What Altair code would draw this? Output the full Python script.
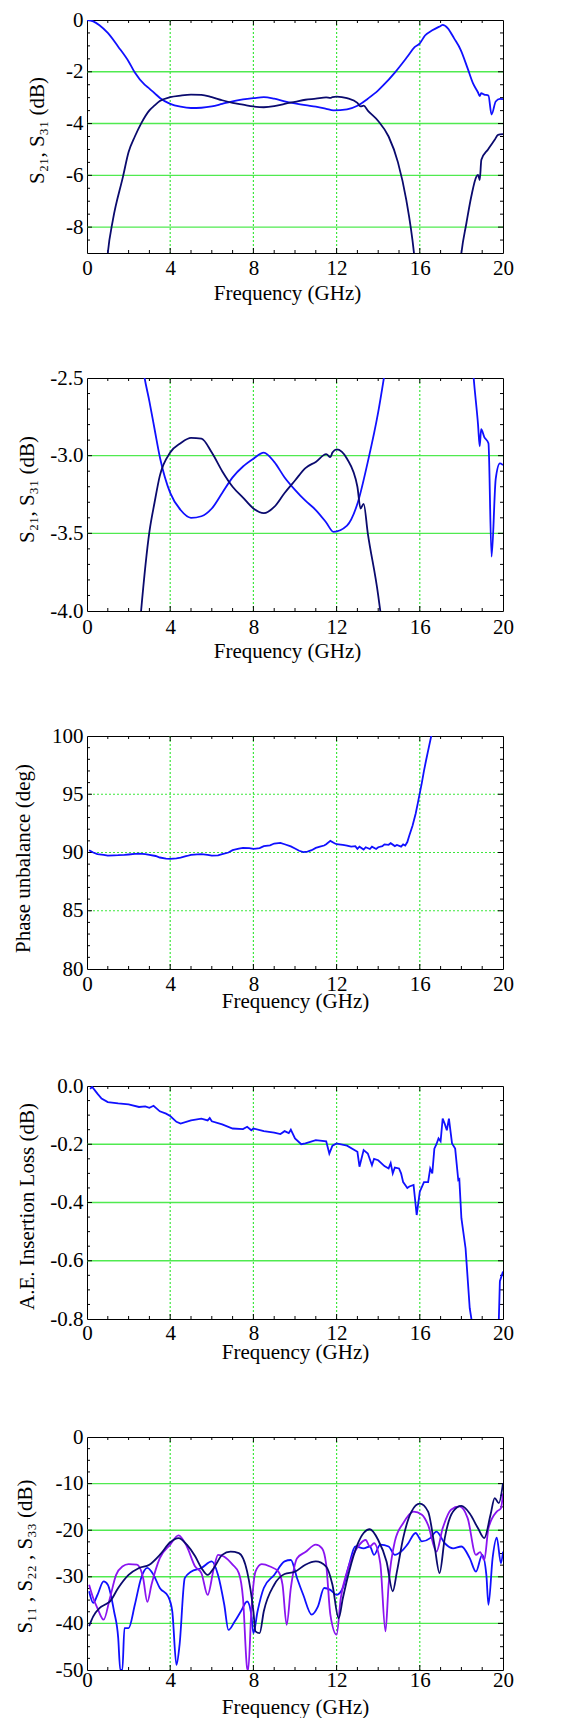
import altair as alt
import pandas as pd

FONT = "Liberation Serif"
BLUE = "#1010ff"
NAVY = "#0a0a6e"
PURPLE = "#8a14f0"
GRID = "#3de83d"

# ---------------- axis tick values ----------------
freq_ticks = [0, 4, 8, 12, 16, 20]
freq_grid = [4, 8, 12, 16]
freq_minor = [1, 2, 3, 5, 6, 7, 9, 10, 11, 13, 14, 15, 17, 18, 19]

p1_major = [0, -2, -4, -6, -8]
p1_grid = [-2, -4, -6, -8]
p1_minor = [-0.5, -1, -1.5, -2.5, -3, -3.5, -4.5, -5, -5.5, -6.5, -7, -7.5, -8.5]

p2_major = [-2.5, -3.0, -3.5, -4.0]
p2_grid = [-3.0, -3.5]
p2_minor = [-2.6, -2.7, -2.8, -2.9, -3.1, -3.2, -3.3, -3.4, -3.6, -3.7, -3.8, -3.9]

p3_major = [80, 85, 90, 95, 100]
p3_grid = [85, 90, 95]
p3_minor = [81, 82, 83, 84, 86, 87, 88, 89, 91, 92, 93, 94, 96, 97, 98, 99]

p4_major = [0.0, -0.2, -0.4, -0.6, -0.8]
p4_grid = [-0.2, -0.4, -0.6]
p4_minor = [-0.05, -0.1, -0.15, -0.25, -0.3, -0.35, -0.45, -0.5, -0.55, -0.65, -0.7, -0.75]

p5_major = [0, -10, -20, -30, -40, -50]
p5_grid = [-10, -20, -30, -40]
p5_minor = [-2.5, -5, -7.5, -12.5, -15, -17.5, -22.5, -25, -27.5, -32.5, -35, -37.5, -42.5, -45, -47.5]

# ---------------- S21 / S31 (panels 1 and 2) ----------------
s_blue_f = [0.0, 0.3, 0.6, 1.0, 1.5, 2.0, 2.3, 2.77, 3.0, 3.25, 3.52, 4.0, 4.5, 5.0, 5.5,
            6.0, 6.5, 7.0, 7.5, 8.0, 8.5, 9.0, 9.5, 10.0, 10.5, 11.0, 11.5, 11.85, 12.5,
            13.0, 13.5, 14.0, 14.25, 14.8, 15.4, 15.75, 16.0, 16.25, 16.6, 17.0, 17.1,
            17.35, 17.65, 17.97, 18.3, 18.56, 18.8, 18.88, 18.95, 19.1, 19.3, 19.45,
            19.65, 19.85, 20.0]
s_blue_v = [0.0, -0.05, -0.2, -0.5, -1.03, -1.6, -2.03, -2.5, -2.65, -2.83, -3.02, -3.24,
            -3.35, -3.40, -3.39, -3.34, -3.24, -3.14, -3.07, -3.02, -2.98, -3.04, -3.14,
            -3.22, -3.29, -3.35, -3.43, -3.49, -3.45, -3.31, -3.04, -2.72, -2.52, -2.03,
            -1.42, -1.05, -0.9, -0.6, -0.4, -0.23, -0.19, -0.32, -0.71, -1.16, -1.87,
            -2.45, -2.8, -2.94, -2.83, -2.88, -2.92, -3.65, -3.15, -3.05, -3.06]

s_navy_f = [0.0, 0.6, 1.0, 1.25, 1.73, 2.0, 2.3, 2.6, 3.0, 3.25, 3.5, 4.0, 4.5, 5.0, 5.5,
            6.0, 6.5, 7.0, 7.5, 8.0, 8.5, 9.0, 9.5, 10.0, 10.5, 11.0, 11.5, 11.7, 11.8,
            12.0, 12.5, 13.0, 13.15, 13.3, 13.5, 14.0, 14.5, 14.95, 15.35, 15.72, 16.2,
            17.0, 17.7, 18.0, 18.24, 18.48, 18.72, 18.8, 18.88, 18.96, 19.28, 19.6,
            19.76, 20.0]
s_navy_v = [-30.0, -14.0, -9.0, -7.7, -6.05, -5.1, -4.5, -4.0, -3.49, -3.3, -3.13, -2.98,
            -2.92, -2.886, -2.89, -2.98, -3.10, -3.20, -3.27, -3.34, -3.37, -3.33, -3.24,
            -3.16, -3.08, -3.04, -2.99, -3.01, -2.98, -2.96, -3.02, -3.2, -3.34, -3.31,
            -3.5, -3.9, -4.5, -5.5, -6.95, -9.0, -14.0, -20.0, -12.0, -9.0, -7.85, -6.8,
            -6.05, -5.98, -6.18, -5.4, -5.0, -4.63, -4.44, -4.41]

# ---------------- Phase unbalance (panel 3) ----------------
ph_f = [0.1, 0.3, 0.5, 0.8, 1.0, 1.3, 1.5, 1.8, 2.0, 2.3, 2.5, 2.8, 3.0, 3.3, 3.5, 3.8,
        4.0, 4.3, 4.5, 4.8, 5.0, 5.3, 5.5, 5.8, 6.0, 6.3, 6.5, 6.8, 7.0, 7.3, 7.5, 7.8,
        8.0, 8.3, 8.5, 8.8, 9.0, 9.3, 9.5, 9.8, 10.0, 10.2, 10.4, 10.6, 10.8, 11.0, 11.2,
        11.4, 11.5, 11.7, 11.9, 12.0, 12.3, 12.5, 12.7, 12.9, 13.0, 13.1, 13.3, 13.4,
        13.6, 13.7, 13.9, 14.0, 14.2, 14.3, 14.5, 14.6, 14.8, 14.9, 15.1, 15.2, 15.3,
        15.4, 15.5, 15.65, 15.8, 15.9, 16.0, 16.1, 16.2, 16.3, 16.4, 16.55, 16.7]
ph_v = [90.2, 90.0, 89.86, 89.8, 89.74, 89.76, 89.77, 89.8, 89.83, 89.88, 89.91, 89.86,
        89.8, 89.7, 89.57, 89.48, 89.46, 89.5, 89.57, 89.7, 89.8, 89.84, 89.86, 89.8,
        89.74, 89.76, 89.86, 90.0, 90.2, 90.33, 90.4, 90.38, 90.31, 90.38, 90.54, 90.62,
        90.77, 90.83, 90.71, 90.52, 90.34, 90.15, 90.03, 90.08, 90.2, 90.4, 90.5, 90.6,
        90.71, 91.0, 90.8, 90.71, 90.65, 90.6, 90.5, 90.55, 90.31, 90.5, 90.25, 90.45,
        90.3, 90.5, 90.3, 90.45, 90.55, 90.7, 90.66, 90.8, 90.55, 90.65, 90.5, 90.7,
        90.6, 90.9, 91.48, 92.3, 93.33, 94.2, 95.1, 96.0, 97.0, 97.9, 98.75, 100.0, 101.5]

# ---------------- A.E. insertion loss (panel 4) ----------------
ae_f = [0.15, 0.25, 0.5, 0.7, 1.0, 1.5, 2.0, 2.5, 2.8, 3.0, 3.2, 3.5, 3.8, 4.0, 4.3, 4.5,
        5.0, 5.5, 5.8, 5.9, 6.0, 6.5, 7.0, 7.5, 7.7, 7.9, 8.0, 8.5, 9.0, 9.3, 9.5, 9.7,
        9.8, 10.0, 10.3, 10.5, 11.0, 11.5, 11.65, 11.8, 12.0, 12.5, 13.0, 13.1, 13.3,
        13.5, 13.7, 13.8, 14.0, 14.3, 14.5, 14.6, 14.7, 14.8, 15.0, 15.1, 15.2, 15.4,
        15.5, 15.7, 15.85, 16.0, 16.2, 16.4, 16.5, 16.6, 16.7, 16.8, 16.9, 17.0, 17.1,
        17.2, 17.3, 17.4, 17.55, 17.7, 17.85, 17.9, 18.0, 18.2, 18.4, 18.5, 19.0, 19.5,
        19.8, 19.85, 20.0]
ae_v = [-0.01, -0.003, -0.026, -0.043, -0.055, -0.06, -0.063, -0.072, -0.07, -0.075,
        -0.068, -0.087, -0.095, -0.103, -0.123, -0.129, -0.118, -0.112, -0.118, -0.11,
        -0.121, -0.132, -0.146, -0.148, -0.14, -0.152, -0.146, -0.155, -0.16, -0.165,
        -0.155, -0.162, -0.15, -0.18, -0.2, -0.197, -0.186, -0.19, -0.232, -0.205, -0.197,
        -0.205, -0.226, -0.277, -0.22, -0.232, -0.272, -0.25, -0.255, -0.275, -0.283,
        -0.265, -0.30, -0.28, -0.283, -0.3, -0.33, -0.35, -0.345, -0.34, -0.443, -0.363,
        -0.33, -0.33, -0.283, -0.30, -0.215, -0.20, -0.18, -0.19, -0.112, -0.13, -0.152,
        -0.112, -0.197, -0.215, -0.323, -0.32, -0.454, -0.557, -0.763, -0.808, -1.0, -1.0,
        -0.8, -0.67, -0.637]

# ---------------- S11 / S22 / S33 (panel 5) ----------------
rl_navy_f = [0.1, 0.3, 0.6, 0.9, 1.1, 1.5, 2.0, 2.5, 3.0, 3.5, 4.0, 4.4, 4.8, 5.2, 5.5,
             5.8, 6.1, 6.5, 6.9, 7.3, 7.7, 8.0, 8.1, 8.3, 8.5, 9.0, 9.5, 10.0, 10.5, 11.0,
             11.5, 11.8, 12.1, 12.3, 12.6, 13.0, 13.3, 13.6, 14.0, 14.4, 14.7, 14.9, 15.2,
             15.6, 16.0, 16.4, 16.7, 16.95, 17.2, 17.6, 18.0, 18.4, 18.8, 19.1, 19.4, 19.6,
             19.8, 20.0]
rl_navy_v = [-40.6, -38.5, -36.7, -35.9, -35.3, -32.4, -29.6, -28.1, -27.4, -25.3, -22.6,
             -21.7, -23.1, -25.6, -28.1, -29.6, -28.1, -25.3, -24.6, -24.9, -28.9, -37.4,
             -41.7, -42.1, -37.4, -31.7, -29.4, -28.9, -27.4, -26.7, -27.8, -31.7, -38.9,
             -34.6, -28.9, -23.1, -20.6, -19.8, -22.1, -26.7, -33.1, -28.9, -21.7, -16.0,
             -14.3, -16.0, -23.1, -29.2, -21.7, -16.0, -14.8, -16.4, -19.6, -21.7, -16.7,
             -13.1, -14.2, -9.9]

rl_purple_f = [0.1, 0.3, 0.5, 0.8, 1.1, 1.4, 1.7, 2.0, 2.4, 2.7, 2.9, 3.1, 3.5, 4.0, 4.4,
               4.8, 5.2, 5.5, 5.8, 6.1, 6.3, 6.6, 7.0, 7.3, 7.5, 7.7, 7.75, 7.9, 8.1, 8.4,
               8.8, 9.2, 9.4, 9.6, 9.8, 10.1, 10.5, 11.0, 11.3, 11.5, 11.7, 12.0, 12.2,
               12.5, 12.8, 13.1, 13.4, 13.6, 13.8, 14.1, 14.35, 14.5, 14.8, 15.2, 15.7,
               16.1, 16.4, 16.8, 17.1, 17.5, 17.9, 18.3, 18.7, 18.9, 19.1, 19.3, 19.7,
               19.9, 20.0]
rl_purple_v = [-31.7, -34.6, -36.7, -39.2, -34.6, -29.6, -27.8, -27.3, -27.4, -30.3, -35.4,
               -31.7, -26.0, -23.1, -21.1, -23.5, -27.8, -29.2, -33.9, -28.1, -25.3, -25.7,
               -27.4, -29.2, -34.6, -49.6, -50.0, -37.4, -28.9, -27.3, -27.8, -28.9, -31.7,
               -40.3, -32.4, -26.0, -24.7, -23.1, -23.9, -27.4, -38.1, -42.4, -34.6, -28.9,
               -25.3, -23.1, -22.1, -23.5, -22.8, -27.1, -41.7, -31.7, -22.4, -18.5, -16.0,
               -16.7, -18.9, -24.6, -19.6, -15.6, -14.9, -17.4, -25.3, -24.7, -26.4, -19.6,
               -16.0, -15.3, -12.1]

rl_blue_f = [0.1, 0.3, 0.5, 0.8, 1.0, 1.3, 1.5, 1.6, 1.7, 1.8, 2.0, 2.3, 2.6, 2.9, 3.2,
             3.5, 3.9, 4.1, 4.3, 4.45, 4.7, 5.0, 5.5, 6.0, 6.3, 6.6, 6.8, 7.1, 7.4, 7.7,
             7.9, 8.0, 8.2, 8.5, 9.0, 9.5, 9.8, 10.1, 10.4, 10.8, 11.1, 11.4, 11.7, 12.0,
             12.3, 12.6, 12.9, 13.3, 13.6, 13.8, 14.1, 14.5, 14.8, 15.1, 15.4, 15.8, 16.1,
             16.5, 16.8, 17.2, 17.6, 18.0, 18.4, 18.7, 19.0, 19.2, 19.3, 19.5, 19.7, 19.9,
             20.0]
rl_blue_v = [-33.1, -35.6, -33.9, -31.0, -31.7, -37.4, -43.1, -50.0, -50.0, -41.0, -41.0,
             -36.0, -30.3, -28.1, -29.6, -32.4, -34.2, -37.4, -48.9, -44.6, -30.3, -28.9,
             -28.1, -26.7, -29.6, -36.0, -41.4, -39.6, -37.4, -35.3, -38.1, -42.1, -37.4,
             -32.4, -29.6, -26.7, -26.4, -30.3, -33.9, -38.1, -36.4, -32.4, -32.8, -33.9,
             -32.4, -27.4, -23.5, -23.9, -23.5, -25.3, -23.1, -23.5, -25.3, -24.6, -23.1,
             -20.6, -22.4, -21.7, -20.3, -22.8, -23.9, -23.5, -26.0, -28.9, -25.3, -29.6,
             -36.0, -26.0, -21.6, -27.1, -24.6]

W, H = 416, 233


def make_panel(series, ydom, ymajor, ygrid, yminor, fmt, ytitle, ytx, yty,
               xlabpad, xty, xtx, hsolid, interp):
    xs = alt.Scale(domain=[0, 20], nice=False, zero=False)
    ys = alt.Scale(domain=ydom, nice=False, zero=False)
    xaxis = alt.Axis(values=freq_ticks, format="d", ticks=False, tickSize=0, domain=False,
                     grid=False, labelFlush=False, labelOverlap=False, labelPadding=xlabpad,
                     labelBaseline="middle", labelFont=FONT, labelFontSize=21,
                     labelColor="black", title="Frequency (GHz)", titleFont=FONT,
                     titleFontSize=21, titleFontWeight="normal", titleColor="black",
                     titleY=xty, titleX=xtx, titleBaseline="middle")
    lexpr = ("datum.value < 0 ? '-' + format(-datum.value, '%s') : format(datum.value, '%s')"
             % (fmt, fmt))
    yaxis = alt.Axis(values=ymajor, labelExpr=lexpr, ticks=False, tickSize=0, domain=False,
                     grid=False, labelPadding=4, labelOverlap=False, labelFont=FONT,
                     labelFontSize=21, labelColor="black", title=ytitle, titleFont=FONT,
                     titleFontSize=21, titleFontWeight="normal", titleColor="black",
                     titleX=ytx, titleY=yty, titleBaseline="alphabetic")
    X = alt.X("f:Q", scale=xs, axis=xaxis)
    Y = alt.Y("v:Q", scale=ys, axis=yaxis)

    if hsolid:
        hg = alt.Chart(pd.DataFrame({"v": ygrid})).mark_rule(
            color=GRID, strokeWidth=1.4, opacity=0.9).encode(y=Y)
    else:
        hg = alt.Chart(pd.DataFrame({"v": ygrid})).mark_rule(
            color=GRID, strokeWidth=1.2, strokeDash=[2, 2]).encode(y=Y)
    vg = alt.Chart(pd.DataFrame({"f": freq_grid})).mark_rule(
        color=GRID, strokeWidth=1.2, strokeDash=[2, 2]).encode(x=X)

    tk = []
    for vals, ln in ((freq_minor, 3), (freq_grid, 5)):
        d = pd.DataFrame({"f": vals})
        tk.append(alt.Chart(d).mark_rule(color="black", strokeWidth=1).encode(
            x=X, y=alt.value(H), y2=alt.value(H - ln)))
        tk.append(alt.Chart(d).mark_rule(color="black", strokeWidth=1).encode(
            x=X, y=alt.value(0), y2=alt.value(ln)))
    for vals, ln in ((yminor, 3), (ygrid, 5)):
        d = pd.DataFrame({"v": vals})
        tk.append(alt.Chart(d).mark_rule(color="black", strokeWidth=1).encode(
            y=Y, x=alt.value(0), x2=alt.value(ln)))
        tk.append(alt.Chart(d).mark_rule(color="black", strokeWidth=1).encode(
            y=Y, x=alt.value(W), x2=alt.value(W - ln)))

    lines = []
    for color, fs, vs in series:
        d = pd.DataFrame({"f": fs, "v": vs})
        lines.append(alt.Chart(d).mark_line(strokeWidth=1.8, clip=True, color=color,
                                            interpolate=interp).encode(x=X, y=Y))
    return alt.layer(hg, vg, *tk, *lines).properties(width=W, height=H)


p1 = make_panel([(BLUE, s_blue_f, s_blue_v), (NAVY, s_navy_f, s_navy_v)],
                [-9, 0], p1_major, p1_grid, p1_minor, "d", "S\u2082\u2081, S\u2083\u2081 (dB)",
                -44, 110, 15, 40, 200, True, "monotone")
p2 = make_panel([(BLUE, s_blue_f, s_blue_v), (NAVY, s_navy_f, s_navy_v)],
                [-4, -2.5], p2_major, p2_grid, p2_minor, ".1f", "S\u2082\u2081, S\u2083\u2081 (dB)",
                -54, 111, 16.5, 40, 200, True, "monotone")
p3 = make_panel([(BLUE, ph_f, ph_v)],
                [80, 100], p3_major, p3_grid, p3_minor, "d", "Phase unbalance (deg)",
                -58, 122, 15, 32, 208, False, "linear")
p4 = make_panel([(BLUE, ae_f, ae_v)],
                [-0.8, 0], p4_major, p4_grid, p4_minor, ".1f", "A.E. Insertion Loss (dB)",
                -54, 120, 14.5, 33, 208, True, "linear")
p5 = make_panel([(BLUE, rl_blue_f, rl_blue_v), (PURPLE, rl_purple_f, rl_purple_v),
                 (NAVY, rl_navy_f, rl_navy_v)],
                [-50, 0], p5_major, p5_grid, p5_minor, "d",
                "S\u2081\u2081 , S\u2082\u2082 , S\u2083\u2083 (dB)",
                -56, 119, 10, 37, 208, True, "monotone")

chart = alt.vconcat(p1, p2, p3, p4, p5, spacing=62).properties(
    padding={"left": 3, "top": 0, "right": 0, "bottom": 0}
).configure_view(stroke="black", strokeWidth=1)

chart.save("out.html", embed_options={"renderer": "svg", "actions": False})
